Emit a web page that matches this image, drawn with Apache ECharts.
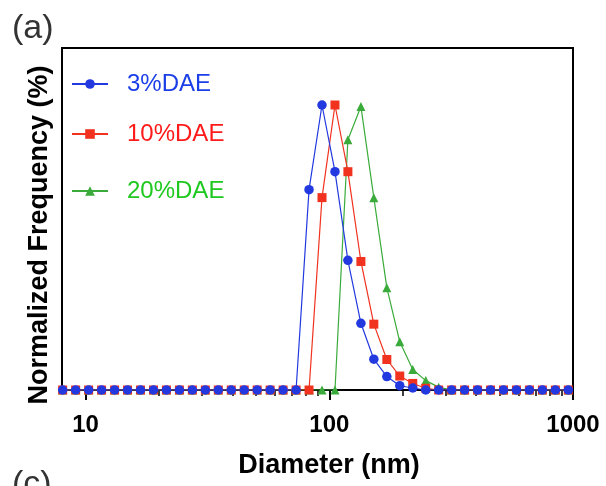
<!DOCTYPE html>
<html>
<head>
<meta charset="utf-8">
<script src="https://cdn.jsdelivr.net/npm/echarts@6/dist/echarts.min.js"></script>
<style>
  html, body { margin: 0; padding: 0; background: #fff; }
  #chart { width: 606px; height: 486px; }
</style>
</head>
<body>
<div id="chart"></div>
<script>
// diameters (nm), log-spaced DLS bins
var diameters = [8.05, 9.10, 10.29, 11.63, 13.15, 14.86, 16.80, 18.99, 21.46, 24.26,
  27.42, 30.99, 35.03, 39.60, 44.76, 50.58, 57.18, 64.63, 73.05, 82.57,
  93.33, 105.5, 119.2, 134.8, 152.3, 172.2, 194.6, 220.0, 248.7, 281.1,
  317.7, 359.1, 405.9, 458.8, 518.6, 586.1, 662.5, 748.9, 846.5, 956.8];

var dae3 = [0, 0, 0, 0, 0, 0, 0, 0, 0, 0, 0, 0, 0, 0, 0, 0, 0, 0, 0,
  70.3, 100, 76.6, 45.5, 23.4, 10.8, 4.7, 1.5, 0.7,
  0, 0, 0, 0, 0, 0, 0, 0, 0, 0, 0, 0];
var dae10 = [0, 0, 0, 0, 0, 0, 0, 0, 0, 0, 0, 0, 0, 0, 0, 0, 0, 0, 0, 0,
  67.5, 100, 76.6, 45.1, 23.1, 10.7, 4.9, 2.3, 0.6,
  0, 0, 0, 0, 0, 0, 0, 0, 0, 0, 0];
var dae20 = [0, 0, 0, 0, 0, 0, 0, 0, 0, 0, 0, 0, 0, 0, 0, 0, 0, 0, 0, 0, 0, 0,
  87.8, 99.5, 67.5, 35.9, 16.9, 7.2, 3.3, 1.0,
  0, 0, 0, 0, 0, 0, 0, 0, 0, 0];

var majorTicks = [10, 100, 1000];
var minorTicks = [20, 30, 40, 50, 60, 70, 80, 90, 200, 300, 400, 500, 600, 700, 800, 900];

function pairs(vals) {
  return diameters.map(function (d, i) { return [d, vals[i]]; });
}

var font = "'Liberation Sans', Arial, sans-serif";
var chart = echarts.init(document.getElementById("chart"), null, { renderer: "canvas" });

function legendAt(name, top, color) {
  return {
    data: [name],
    left: 66,
    top: top,
    itemWidth: 36,
    itemHeight: 12,
    textStyle: { color: color, fontSize: 24, fontFamily: font, padding: [0, 0, 0, 14] }
  };
}

chart.setOption({
  animation: false,
  backgroundColor: "#fff",
  grid: { left: 62, right: 33, top: 48, bottom: 96, show: true, borderColor: "#000", borderWidth: 2 },
  legend: [
    legendAt("3%DAE", 67, "#1a3ee8"),
    legendAt("10%DAE", 117, "#ff1a1a"),
    legendAt("20%DAE", 174, "#1ec81e")
  ],
  xAxis: [{
    type: "log",
    logBase: 10,
    min: 8,
    max: 1000,
    axisLine: { show: true, lineStyle: { color: "#000", width: 2 } },
    axisTick: { show: true, customValues: majorTicks, length: 10, lineStyle: { color: "#000", width: 2 } },
    axisLabel: {
      customValues: majorTicks, margin: 23, color: "#000", fontSize: 24, fontWeight: "bold", fontFamily: font,
      formatter: function (v) { return String(v); }
    },
    splitLine: { show: false }
  }, {
    type: "log",
    logBase: 10,
    min: 8,
    max: 1000,
    position: "bottom",
    axisLine: { show: false },
    axisTick: { show: true, customValues: minorTicks, length: 6, lineStyle: { color: "#000", width: 1.5 } },
    axisLabel: { show: false },
    splitLine: { show: false }
  }],
  yAxis: {
    type: "value",
    min: 0,
    max: 120,
    axisLine: { show: true, lineStyle: { color: "#000", width: 2 } },
    axisTick: { show: false },
    axisLabel: { show: false },
    splitLine: { show: false }
  },
  series: [{
    name: "20%DAE",
    type: "line",
    data: pairs(dae20),
    symbol: "triangle",
    symbolSize: 9,
    color: "#3aab3a",
    lineStyle: { width: 1.2 }
  }, {
    name: "10%DAE",
    type: "line",
    data: pairs(dae10),
    symbol: "rect",
    symbolSize: 9,
    color: "#f0321e",
    lineStyle: { width: 1.2 }
  }, {
    name: "3%DAE",
    type: "line",
    data: pairs(dae3),
    symbol: "circle",
    symbolSize: 9.5,
    color: "#2239e0",
    lineStyle: { width: 1.2 }
  }],
  graphic: [{
    type: "text",
    left: 12,
    top: 12,
    style: { text: "(a)", fontSize: 34, fontFamily: font, fill: "#333" }
  }, {
    type: "text",
    left: 12,
    top: 468,
    style: { text: "(c)", fontSize: 34, fontFamily: font, fill: "#333" }
  }, {
    type: "text",
    x: 329,
    y: 466,
    style: { text: "Diameter (nm)", fontSize: 27, fontWeight: "bold", fontFamily: font, fill: "#000", align: "center", verticalAlign: "middle" }
  }, {
    type: "text",
    x: 40,
    y: 235,
    rotation: Math.PI / 2,
    style: { text: "Normalized Frequency (%)", fontSize: 27, fontWeight: "bold", fontFamily: font, fill: "#000", align: "center", verticalAlign: "middle" }
  }]
});
</script>
</body>
</html>
